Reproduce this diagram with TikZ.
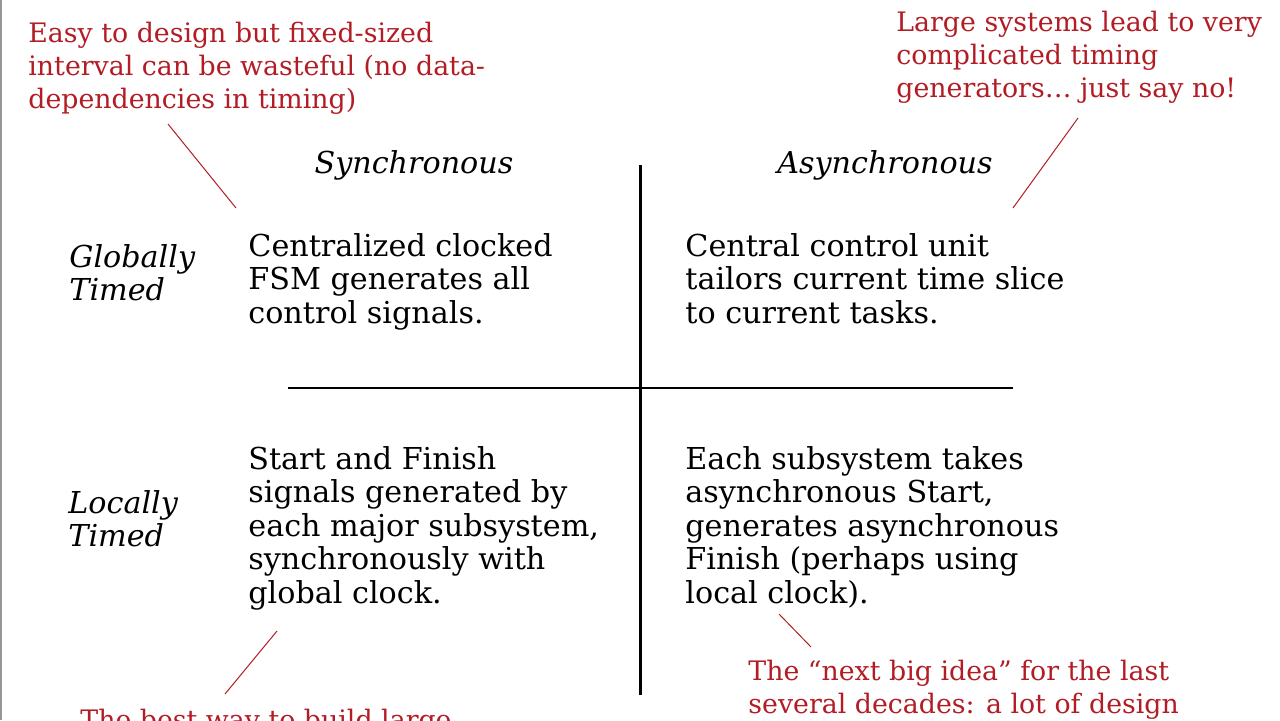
\documentclass[tikz,border=0pt]{standalone}
\usepackage{fontspec}
\setmainfont{DejaVu Serif}
\usetikzlibrary{calc}

\definecolor{notered}{RGB}{178,28,36}
\definecolor{edgegray}{RGB}{150,150,150}

\begin{document}
\begin{tikzpicture}[x=0.5pt, y=-0.5pt, >=stealth]
    % 1. Define Frame and Styles
    % (multi-line nodes are placed at the baseline of their last line)
    \tikzset{
        body/.style={anchor=base west, align=left, inner sep=0pt,
            font=\fontsize{15.1}{16.75}\selectfont},
        head/.style={anchor=base, inner sep=0pt,
            font=\fontsize{15.1}{16.75}\selectfont\itshape},
        side/.style={anchor=base west, align=left, inner sep=0pt,
            font=\fontsize{15.1}{16.25}\selectfont\itshape},
        note/.style={anchor=base west, align=left, inner sep=0pt, text=notered,
            font=\fontsize{13.4}{16.5}\selectfont},
        leader/.style={notered, line width=0.5pt}
    }
    \useasboundingbox (0,0) rectangle (1280,720);
    \clip (0,0) rectangle (1280,720);
    \draw[edgegray, line width=1pt] (0.5,0) -- (0.5,720);

    % 2. Quadrant Axes
    \coordinate (Vtop) at (640,165);
    \coordinate (Vbot) at (640,695);
    \coordinate (Hleft) at (288,388);
    \coordinate (Hright) at (1013,388);
    \draw[line width=1.5pt] (Vtop) -- (Vbot);
    \draw[line width=0.7pt] (Hleft) -- (Hright);

    % 3. Column and Row Headings
    \node[head] (sync) at (414,173) {Synchronous};
    \node[head] (async) at (885,173) {Asynchronous};
    \node[side] (global) at (69,300) {Globally\\Timed};
    \node[side] (local) at (68,546) {Locally\\Timed};

    % 4. Quadrant Contents
    \node[body] (gsync) at (248,323) {Centralized clocked\\FSM generates all\\control signals.};
    \node[body] (gasync) at (685,323) {Central control unit\\tailors current time slice\\to current tasks.};
    \node[body] (lsync) at (248,603) {Start and Finish\\signals generated by\\each major subsystem,\\synchronously with\\global clock.};
    \node[body] (lasync) at (685,603) {Each subsystem takes\\asynchronous Start,\\generates asynchronous\\Finish (perhaps using\\local clock).};

    % 5. Red Annotations with Leader Lines
    \node[note] (noteTL) at (28,108) {Easy to design but fixed-sized\\interval can be wasteful (no data-\\dependencies in timing)};
    \node[note] (noteTR) at (896,97) {Large systems lead to very\\complicated timing\\generators\dots{} just say no!};
    \node[note] (noteBR) at (748,713) {The “next big idea” for the last\\several decades: a lot of design};
    \node[note] (noteBL) at (80,729) {The best way to build large};

    \coordinate (tlA) at (168,124);  \coordinate (tlB) at (236,208);
    \coordinate (trA) at (1078,118); \coordinate (trB) at (1013,208);
    \coordinate (blA) at (277,631);  \coordinate (blB) at (225,694);
    \coordinate (brA) at (779,614);  \coordinate (brB) at (811,647);
    \draw[leader] (tlA) -- (tlB);
    \draw[leader] (trA) -- (trB);
    \draw[leader] (blA) -- (blB);
    \draw[leader] (brA) -- (brB);

\end{tikzpicture}
\end{document}
